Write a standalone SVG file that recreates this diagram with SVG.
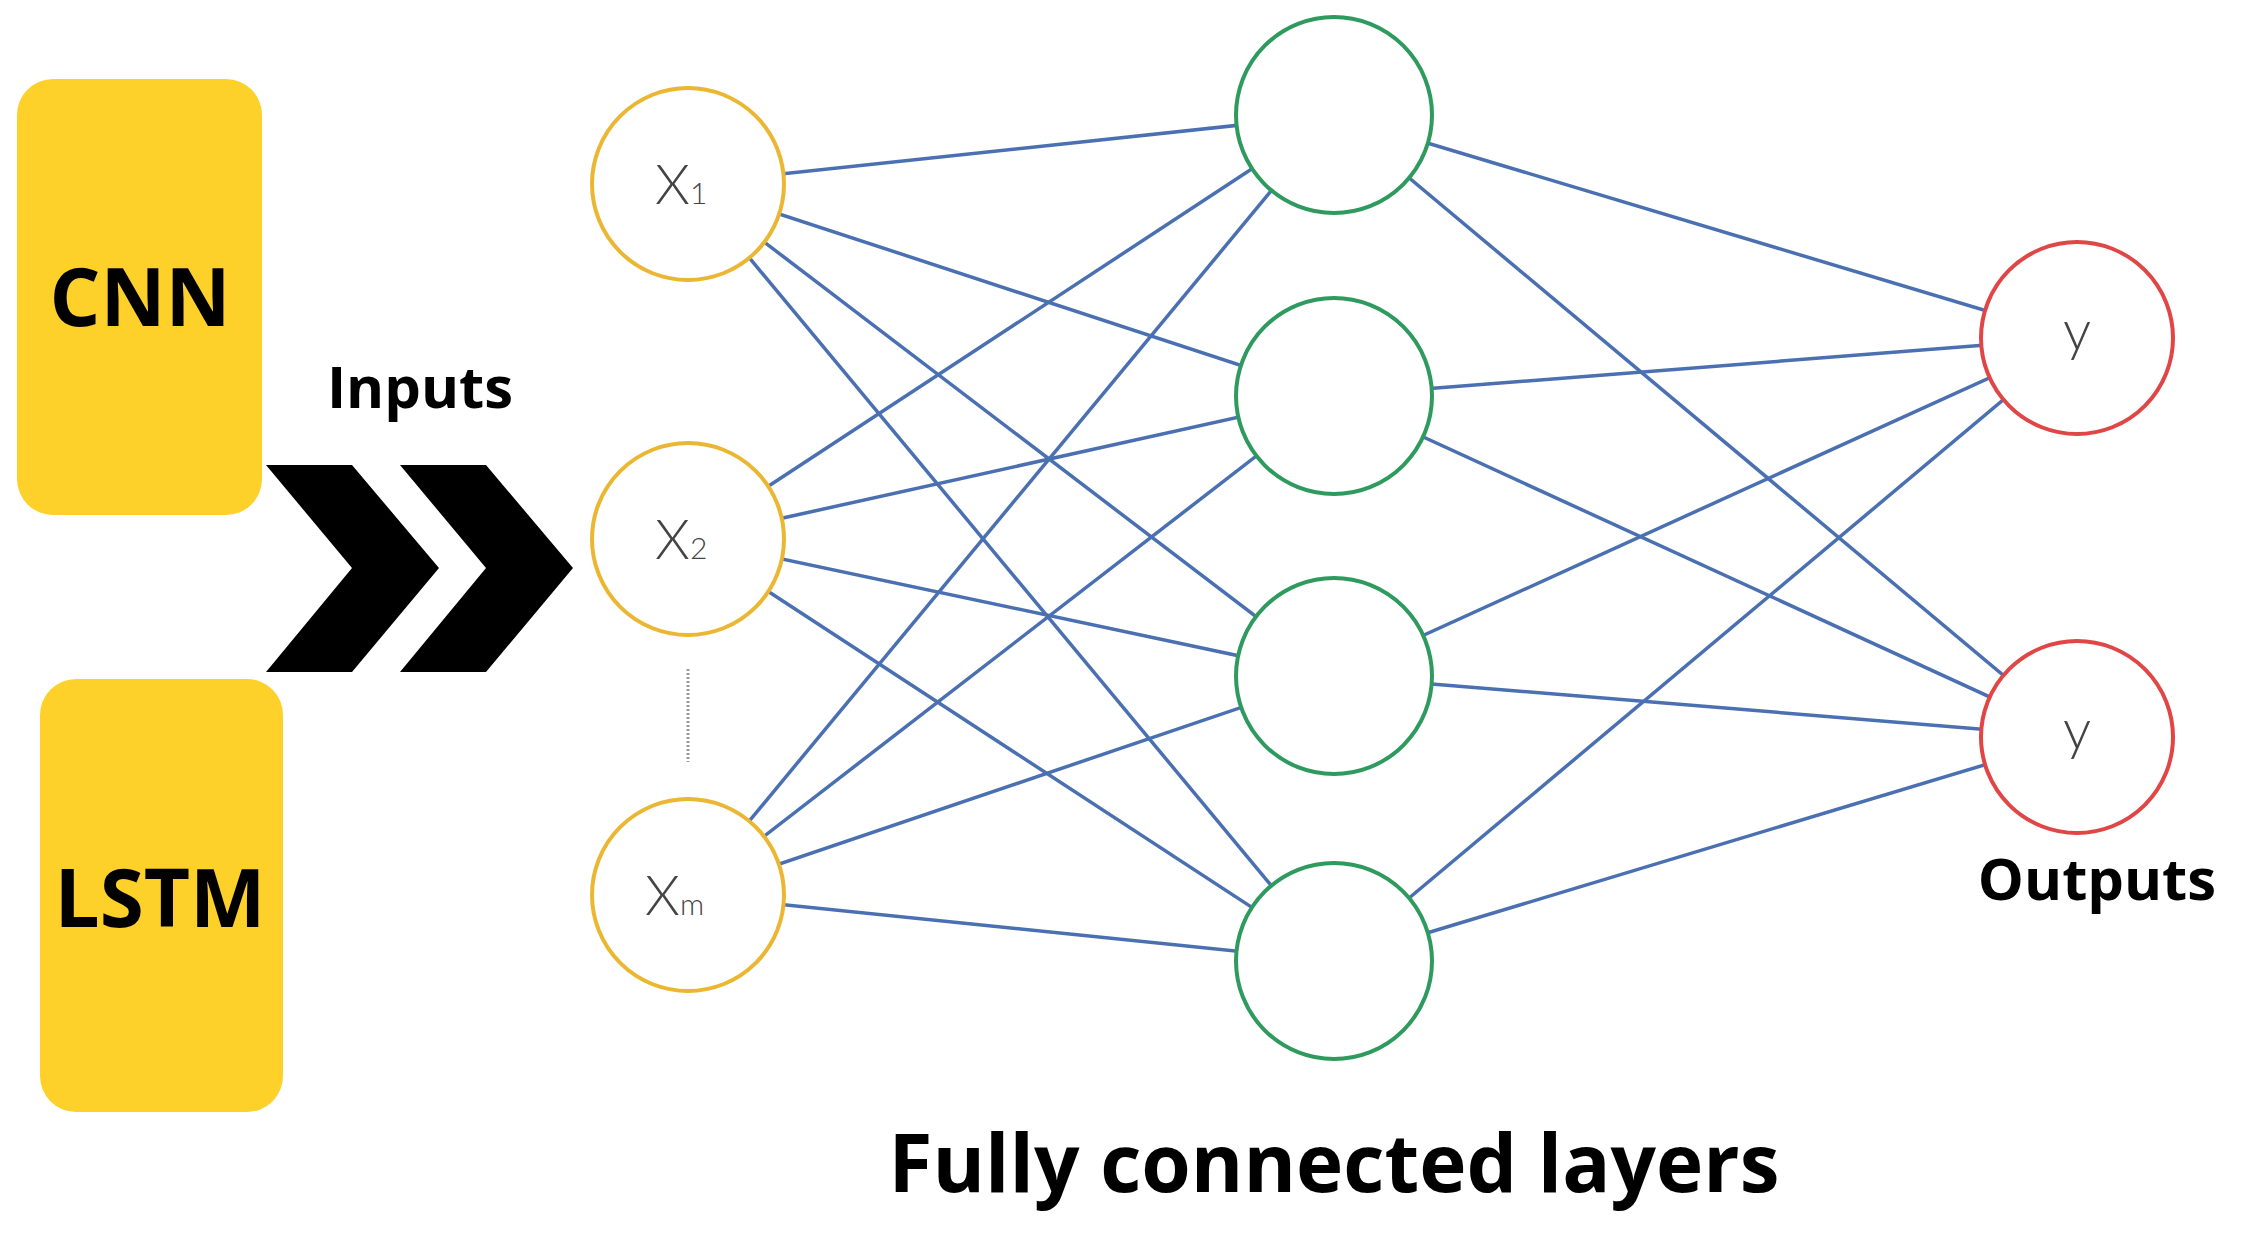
<svg xmlns="http://www.w3.org/2000/svg" width="2250" height="1243" viewBox="0 0 2250 1243">
<style>
.box{fill:#FDD02A}
.big{font-family:"Open Sans","Noto Sans",sans-serif;font-weight:700;fill:#000}
.c{fill:#fff;stroke-width:4}
.in{stroke:#EBB733}.hid{stroke:#2E9A5E}.out{stroke:#E04646}
.lbl{font-family:"Lato","Open Sans",sans-serif;font-weight:300;fill:#444;font-size:56px}
#edges line{stroke:#4A70B2;stroke-width:3.5}
</style>
<rect width="2250" height="1243" fill="#fff"/>
<g id="cnn"><rect class="box" x="17" y="79" width="245" height="436" rx="36"/><text class="big" x="140" y="326" font-size="80" text-anchor="middle">CNN</text></g>
<g id="lstm"><rect class="box" x="40" y="679" width="243" height="433" rx="36"/><text class="big" x="160" y="927" font-size="80" text-anchor="middle">LSTM</text></g>
<g id="arrows" fill="#000">
<polygon points="266,465 352,465 439,568 352,672 266,672 352,568"/>
<polygon points="400,465 486,465 573,568 486,672 400,672 486,568"/>
</g>
<text class="big" x="420" y="408" font-size="58" text-anchor="middle">Inputs</text>
<g id="edges">
<line x1="688" y1="184" x2="1334" y2="115"/><line x1="688" y1="184" x2="1334" y2="396"/><line x1="688" y1="184" x2="1334" y2="676"/><line x1="688" y1="184" x2="1334" y2="961"/>
<line x1="688" y1="539" x2="1334" y2="115"/><line x1="688" y1="539" x2="1334" y2="396"/><line x1="688" y1="539" x2="1334" y2="676"/><line x1="688" y1="539" x2="1334" y2="961"/>
<line x1="688" y1="895" x2="1334" y2="115"/><line x1="688" y1="895" x2="1334" y2="396"/><line x1="688" y1="895" x2="1334" y2="676"/><line x1="688" y1="895" x2="1334" y2="961"/>
<line x1="1334" y1="115" x2="2077" y2="338"/><line x1="1334" y1="115" x2="2077" y2="737"/>
<line x1="1334" y1="396" x2="2077" y2="338"/><line x1="1334" y1="396" x2="2077" y2="737"/>
<line x1="1334" y1="676" x2="2077" y2="338"/><line x1="1334" y1="676" x2="2077" y2="737"/>
<line x1="1334" y1="961" x2="2077" y2="338"/><line x1="1334" y1="961" x2="2077" y2="737"/>
</g>
<line x1="688" y1="669" x2="688" y2="762" stroke="#999" stroke-width="3" stroke-dasharray="2,2"/>
<g id="x1"><circle class="c in" cx="688" cy="184" r="96"/><text class="lbl" x="655" y="204">X<tspan font-size="30">1</tspan></text></g>
<g id="x2"><circle class="c in" cx="688" cy="539" r="96"/><text class="lbl" x="655" y="559">X<tspan font-size="30">2</tspan></text></g>
<g id="xm"><circle class="c in" cx="688" cy="895" r="96"/><text class="lbl" x="645" y="915">X<tspan font-size="30">m</tspan></text></g>
<g id="h1"><circle class="c hid" cx="1334" cy="115" r="98"/></g>
<g id="h2"><circle class="c hid" cx="1334" cy="396" r="98"/></g>
<g id="h3"><circle class="c hid" cx="1334" cy="676" r="98"/></g>
<g id="h4"><circle class="c hid" cx="1334" cy="961" r="98"/></g>
<g id="y1"><circle class="c out" cx="2077" cy="338" r="96"/><text class="lbl" x="2077" y="350" text-anchor="middle">y</text></g>
<g id="y2"><circle class="c out" cx="2077" cy="737" r="96"/><text class="lbl" x="2077" y="749" text-anchor="middle">y</text></g>
<text class="big" x="2097" y="900" font-size="58" text-anchor="middle">Outputs</text>
<text class="big" x="1334" y="1192" font-size="80" text-anchor="middle">Fully connected layers</text>
</svg>
